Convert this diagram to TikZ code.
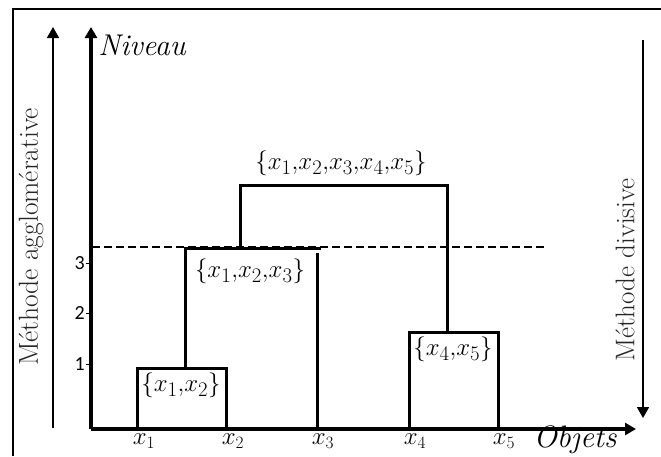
\documentclass[tikz,border=0pt]{standalone}
\usepackage{fontspec}
\newfontfamily\tickfont{Carlito}
\usetikzlibrary{arrows.meta}
\begin{document}
\begin{tikzpicture}[x=1pt,y=-1pt,
  frame/.style={line width=2pt},
  axis/.style={line width=3.2pt,-{Triangle[length=11pt,width=12pt]}},
  side/.style={line width=1.8pt,-{Triangle[length=11pt,width=12pt]}},
  dendro/.style={line width=3pt,line join=miter},
  cut/.style={line width=1.8pt,dash pattern=on 8pt off 4pt},
  tick/.style={line width=1pt},
  set/.style={inner sep=0pt,font=\fontsize{28}{32}\selectfont},
  leaf/.style={inner sep=0pt,font=\fontsize{27}{30}\selectfont},
  ticklab/.style={inner sep=0pt,anchor=east,font=\tickfont\fontsize{20}{22}\selectfont},
  axlab/.style={inner sep=0pt,font=\fontsize{30}{34}\selectfont\itshape},
  method/.style={inner sep=0pt,rotate=90,font=\fontsize{27}{30}\selectfont,text=black!85}]
\useasboundingbox (0,0) rectangle (661,456);
% frame
\coordinate (fbl) at (13,456);
\coordinate (ftl) at (13,9);
\coordinate (ftr) at (661,9);
\draw[frame] (fbl) -- (ftl) -- (ftr);
% axes
\coordinate (O) at (91,429);
\coordinate (ytop) at (91,27);
\coordinate (xend) at (636,429);
\draw[axis] (O) -- (ytop);
\draw[axis] (O) -- (xend);
\coordinate (ab) at (53,428);
\coordinate (at) at (53,27);
\draw[side] (ab) -- (at);
\coordinate (db) at (643,40);
\coordinate (dt) at (643,418);
\draw[side] (db) -- (dt);
% labels of axes
\node[axlab] (niv) at (142,45) {Niveau};
\node[axlab,font=\fontsize{31}{34}\selectfont\itshape] (obj) at (575,440) {Objets};
\node[method,font=\fontsize{27.5}{30}\selectfont] (agg) at (31,237) {Méthode agglomérative};
\node[method] (div) at (625,270) {Méthode divisive};
% ticks
\foreach \v/\y in {1/364,2/313,3/263}{
  \coordinate (t\v a) at (86,\y);
  \coordinate (t\v b) at (91,\y);
  \draw[tick] (t\v a) -- (t\v b);
  \node[ticklab] (tl\v) at (85,\y) {\v};
}
% cut line
\coordinate (c1) at (92,247);
\coordinate (c2) at (544,247);
\draw[cut] (c1) -- (c2);
% leaves
\coordinate (L1) at (137,429);
\coordinate (L2) at (226,429);
\coordinate (L3) at (317,429);
\coordinate (L4) at (409,429);
\coordinate (L5) at (498,429);
\coordinate (T3) at (317,253);
\coordinate (c12) at (185,368);
\coordinate (c123) at (240,248);
\coordinate (e123) at (321,248);
\coordinate (c45) at (447,332);
\coordinate (call) at (340,185);
\draw[dendro] (L1) |- (c12) -| (L2);
\draw[dendro] (c12) |- (c123) -- (e123);
\draw[dendro] (L3) -- (T3);
\draw[dendro] (L4) |- (c45) -| (L5);
\draw[dendro] (c123) |- (call) -| (c45);
% set labels
\node[set] (s12) at (181,385) {$\{x_1{,}x_2\}$};
\node[set] (s123) at (250,271) {$\{x_1{,}x_2{,}x_3\}$};
\node[set] (s45) at (453,349) {$\{x_4{,}x_5\}$};
\node[set] (sall) at (341,163) {$\{x_1{,}x_2{,}x_3{,}x_4{,}x_5\}$};
% leaf labels
\foreach \i/\x in {1/144,2/233,3/323,4/415,5/504}{
  \node[leaf] (lx\i) at (\x,441) {$x_\i$};
}
\end{tikzpicture}
\end{document}
